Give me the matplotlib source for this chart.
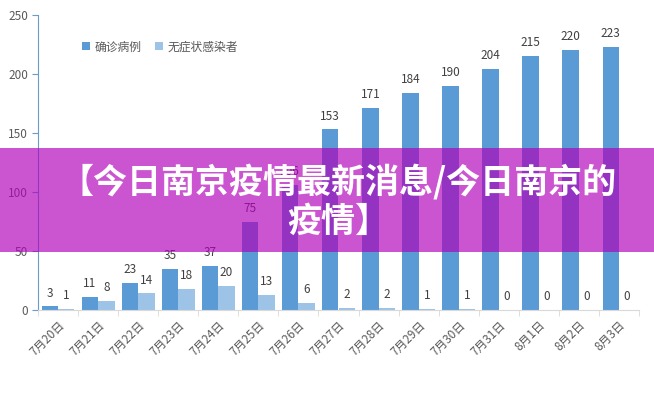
import matplotlib
matplotlib.use("Agg")
import matplotlib.pyplot as plt
import numpy as np
from matplotlib.patches import Rectangle

plt.rcParams['font.family'] = ['Noto Sans CJK SC', 'DejaVu Sans']

dates = ["7月20日", "7月21日", "7月22日", "7月23日", "7月24日", "7月25日", "7月26日",
         "7月27日", "7月28日", "7月29日", "7月30日", "7月31日", "8月1日", "8月2日", "8月3日"]
confirmed = [3, 11, 23, 35, 37, 75, 106, 153, 171, 184, 190, 204, 215, 220, 223]
asymptomatic = [1, 8, 14, 18, 20, 13, 6, 2, 2, 1, 1, 0, 0, 0, 0]
series_names = ["确诊病例", "无症状感染者"]
yticks = [0, 50, 100, 150, 200, 250]
banner_text = "【今日南京疫情最新消息/今日南京的\n疫情】"

fig = plt.figure(figsize=(6.54, 4.01), dpi=100)
ax = fig.add_axes([38/654, 1-310/401, (639-38)/654, (310-15)/401])

x = np.arange(len(dates))
w = 0.41
c1, c2 = "#5B9BD5", "#9DC3E6"
b1 = ax.bar(x - w/2, confirmed, w, color=c1, label=series_names[0])
b2 = ax.bar(x + w/2, asymptomatic, w, color=c2, label=series_names[1])
for rects, vals in ((b1, confirmed), (b2, asymptomatic)):
    for r, v in zip(rects, vals):
        ax.annotate(str(v), (r.get_x() + r.get_width()/2, v), xytext=(0, 5),
                    textcoords="offset points", ha="center", va="bottom",
                    fontsize=8.5, color="#404040")

ax.set_xlim(-0.5, len(dates) - 0.5)
ax.set_ylim(0, 250)
ax.set_yticks(yticks)
ax.set_yticklabels([str(t) for t in yticks], fontsize=8.5, color="#595959")
ax.set_xticks(x)
ax.set_xticklabels(dates, rotation=45, ha="right", rotation_mode="anchor",
                   fontsize=8.5, color="#595959")
ax.tick_params(axis="x", length=0, pad=6)
ax.set_xticks(np.arange(-0.5, len(dates)), minor=True)
ax.tick_params(axis="x", which="minor", length=4, color="#D9D9D9")
ax.tick_params(axis="y", length=4, color="#6A9BC9", pad=3)
for s in ("top", "right"):
    ax.spines[s].set_visible(False)
ax.spines["left"].set_color("#6A9BC9")
ax.spines["bottom"].set_color("#D9D9D9")

leg = ax.legend(loc="upper left", bbox_to_anchor=(0.055, 0.95), ncol=2, frameon=False,
                fontsize=8.5, handlelength=0.7, handleheight=0.7, handletextpad=0.4,
                columnspacing=1.1, labelcolor="#595959")

# banner overlay
fig.patches.append(Rectangle((0, 1-252/401), 1, (252-148)/401, transform=fig.transFigure,
                             facecolor=(177/255, 0, 185/255), alpha=0.665, zorder=10))
fig.text(338/654, 1-201/401, banner_text, ha="center", va="center", fontsize=24.5,
         fontweight="heavy", color="white", zorder=11, linespacing=1.15)

fig.savefig("out.png", dpi=100)
